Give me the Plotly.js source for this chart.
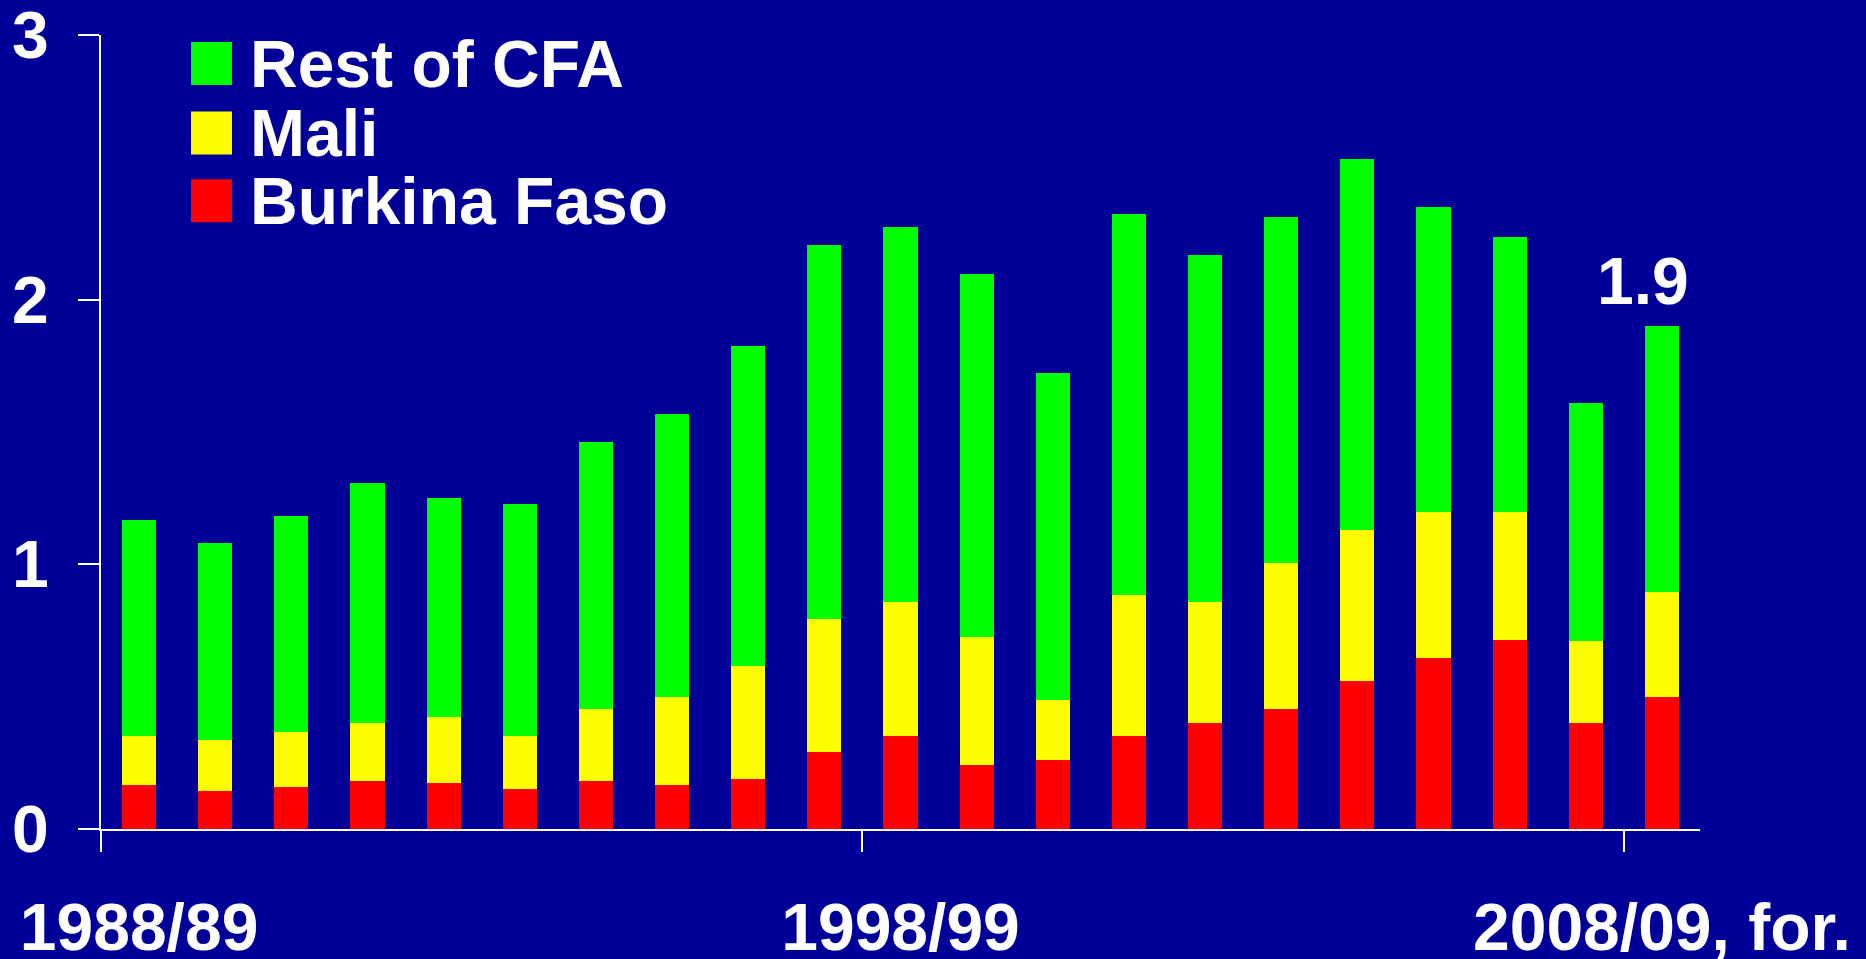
<!DOCTYPE html>
<html>
<head>
<meta charset="utf-8">
<script src="https://cdn.plot.ly/plotly-3.0.1.min.js"></script>
<style>
  html, body { margin: 0; padding: 0; background: #000099; }
  #chart { width: 1866px; height: 959px; }
</style>
</head>
<body>
<div id="chart"></div>
<script>
// ---- Data ----
const categories = ['1988/89','1989/90','1990/91','1991/92','1992/93','1993/94','1994/95',
  '1995/96','1996/97','1997/98','1998/99','1999/00','2000/01','2001/02','2002/03','2003/04',
  '2004/05','2005/06','2006/07','2007/08','2008/09'];
const burkinaFaso = [0.167,0.142,0.159,0.182,0.173,0.152,0.182,0.167,0.190,0.292,0.353,
  0.243,0.260,0.353,0.400,0.453,0.561,0.648,0.716,0.400,0.500];
const mali = [0.184,0.195,0.209,0.218,0.249,0.201,0.271,0.333,0.426,0.503,0.505,
  0.482,0.227,0.533,0.458,0.552,0.568,0.550,0.482,0.310,0.394];
const restOfCFA = [0.815,0.744,0.815,0.906,0.830,0.874,1.008,1.069,1.210,1.412,1.417,
  1.372,1.237,1.436,1.309,1.308,1.403,1.153,1.039,0.899,1.008];
const seriesNames = ['Burkina Faso','Mali','Rest of CFA'];
const seriesColors = ['#FF0000','#FFFF00','#00FF00'];
const tickLabelIndex = [0, 10, 20];
const tickLabels = ['1988/89','1998/99','2008/09, for.'];
const yTicks = [0, 1, 2, 3];
const valueLabelIndex = 20;
const valueLabelText = '1.9';

const xIdx = categories.map((c, i) => i);
const FONT = 'Liberation Sans, Arial, Helvetica, sans-serif';

const seriesValues = [burkinaFaso, mali, restOfCFA];
const traces = seriesValues.map((vals, k) => ({
  type: 'bar',
  name: seriesNames[k],
  x: xIdx,
  y: vals,
  customdata: categories,
  marker: { color: seriesColors[k], line: { width: 0 } },
  hovertemplate: '%{customdata}: %{y}<extra>' + seriesNames[k] + '</extra>'
}));

const totalAt = i => burkinaFaso[i] + mali[i] + restOfCFA[i];

// manual legend (large swatches), top to bottom: Rest of CFA, Mali, Burkina Faso
const legendOrder = [2, 1, 0];
const rowY = [0.9641, 0.8766, 0.7912];
const swH = 0.054;
const shapes = legendOrder.map((k, r) => ({
  type: 'rect', xref: 'paper', yref: 'paper',
  x0: 0.0563, x1: 0.0819, y0: rowY[r] - swH / 2, y1: rowY[r] + swH / 2,
  fillcolor: seriesColors[k], line: { width: 0 }
}));
const annotations = legendOrder.map((k, r) => ({
  xref: 'paper', yref: 'paper', x: 0.0919, y: rowY[r],
  xanchor: 'left', yanchor: 'middle', showarrow: false,
  text: seriesNames[k],
  font: { family: FONT, size: 66, color: '#FFFFFF', weight: 700 }
}));
annotations.push({
  xref: 'x', yref: 'y', x: xIdx[valueLabelIndex], y: totalAt(valueLabelIndex),
  xanchor: 'center', yanchor: 'bottom', xshift: -19, yshift: 6, showarrow: false,
  text: valueLabelText,
  font: { family: FONT, size: 66, color: '#FFFFFF', weight: 700 }
});

const layout = {
  width: 1866, height: 959,
  paper_bgcolor: '#000099', plot_bgcolor: '#000099',
  margin: { l: 101, r: 166, t: 35, b: 130, pad: 0 },
  barmode: 'stack',
  bargap: 0.553,
  showlegend: false,
  xaxis: {
    type: 'linear', range: [-0.5, 20.5], fixedrange: true,
    showgrid: false, zeroline: false,
    showline: true, linecolor: '#FFFFFF', linewidth: 2,
    tickmode: 'array', tickvals: tickLabelIndex, ticktext: tickLabels,
    ticks: '', ticklabelstandoff: 40, ticklabeloverflow: 'allow',
    tickfont: { family: FONT, size: 66, color: '#FFFFFF', weight: 700 },
    minor: { tickmode: 'linear', tick0: -0.5, dtick: 10, ticks: 'outside',
             ticklen: 21, tickwidth: 2, tickcolor: '#FFFFFF', showgrid: false }
  },
  yaxis: {
    range: [0, 3], fixedrange: true,
    showgrid: false, zeroline: false,
    showline: true, linecolor: '#FFFFFF', linewidth: 2,
    tickmode: 'array', tickvals: yTicks, ticktext: yTicks.map(String),
    ticks: 'outside', ticklen: 21, tickwidth: 2, tickcolor: '#FFFFFF',
    ticklabelstandoff: 16, ticklabeloverflow: 'allow',
    tickfont: { family: FONT, size: 66, color: '#FFFFFF', weight: 700 }
  },
  shapes: shapes,
  annotations: annotations
};

Plotly.newPlot('chart', traces, layout, { displayModeBar: false, staticPlot: true });
</script>
</body>
</html>
